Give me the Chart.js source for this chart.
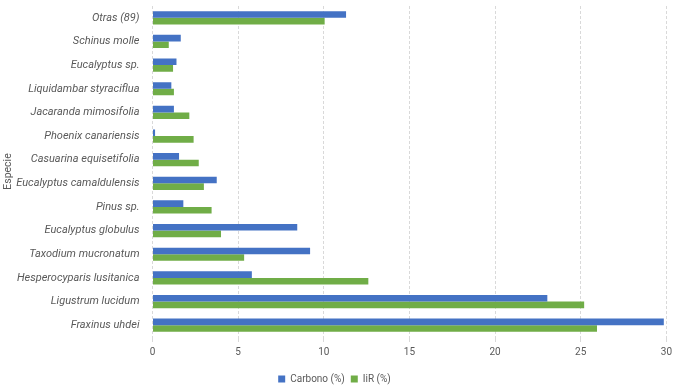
<!DOCTYPE html>
<html lang="es">
  <head>
    <meta charset="utf-8" />
    <title>Carbono e IiR por especie</title>
    <style>
      * {
        margin: 0;
        padding: 0;
      }
      body {
        background: #ffffff;
      }
      .chartBox {
        width: 676px;
        height: 389px;
      }
    </style>
  </head>
  <body>
    <div class="chartBox">
      <canvas id="myChart"></canvas>
    </div>
    <script src="https://cdn.jsdelivr.net/npm/chart.js"></script>
    <script>
      // data
      const especies = [
        'Otras (89)',
        'Schinus molle',
        'Eucalyptus sp.',
        'Liquidambar styraciflua',
        'Jacaranda mimosifolia',
        'Phoenix canariensis',
        'Casuarina equisetifolia',
        'Eucalyptus camaldulensis',
        'Pinus sp.',
        'Eucalyptus globulus',
        'Taxodium mucronatum',
        'Hesperocyparis lusitanica',
        'Ligustrum lucidum',
        'Fraxinus uhdei',
      ];
      const carbono = [11.3, 1.65, 1.4, 1.1, 1.25, 0.15, 1.55, 3.75, 1.8, 8.45, 9.2, 5.8, 23.05, 29.85];
      const iir = [10.05, 0.95, 1.2, 1.25, 2.15, 2.4, 2.7, 3.0, 3.45, 4.0, 5.35, 12.6, 25.2, 25.95];
      const xTicks = [0, 5, 10, 15, 20, 25, 30];

      const grey = '#595959';

      const config = {
        type: 'bar',
        data: {
          labels: especies,
          datasets: [
            {
              label: 'Carbono (%)',
              data: carbono,
              backgroundColor: '#4472C4',
            },
            {
              label: 'IiR (%)',
              data: iir,
              backgroundColor: '#70AD47',
            },
          ],
        },
        options: {
          indexAxis: 'y',
          responsive: true,
          maintainAspectRatio: false,
          animation: false,
          layout: {
            padding: { left: 2, right: 9, top: 6, bottom: -5 },
          },
          datasets: {
            bar: {
              categoryPercentage: 0.56,
              barPercentage: 1,
            },
          },
          scales: {
            x: {
              min: 0,
              max: 30,
              afterBuildTicks: (scale) => {
                scale.ticks = xTicks.map((v) => ({ value: v }));
              },
              afterFit: (scale) => {
                scale.height = 31;
              },
              grid: {
                color: '#d9d9d9',
                tickLength: 5,
              },
              border: { display: false, dash: [3, 2] },
              ticks: {
                color: grey,
                font: { family: 'Roboto', size: 10 },
                padding: 4,
              },
            },
            y: {
              grid: { display: false },
              border: { display: false },
              afterFit: (scale) => {
                scale.width = 150.5;
                // no extra room above/below for the first and last label
                scale.paddingTop = 0;
                scale.paddingBottom = 0;
              },
              ticks: {
                color: grey,
                padding: 5,
                font: { family: 'Roboto', size: 11, style: 'italic' },
              },
              title: {
                display: true,
                text: 'Especie',
                color: grey,
                font: { family: 'Roboto', size: 10.5 },
                padding: 0,
              },
            },
          },
          plugins: {
            legend: {
              position: 'bottom',
              labels: {
                color: grey,
                boxWidth: 7,
                boxHeight: 7,
                padding: 6,
                font: { family: 'Roboto', size: 10 },
              },
            },
            tooltip: { enabled: false },
          },
        },
      };

      const myChart = new Chart(document.getElementById('myChart'), config);
    </script>
  </body>
</html>
